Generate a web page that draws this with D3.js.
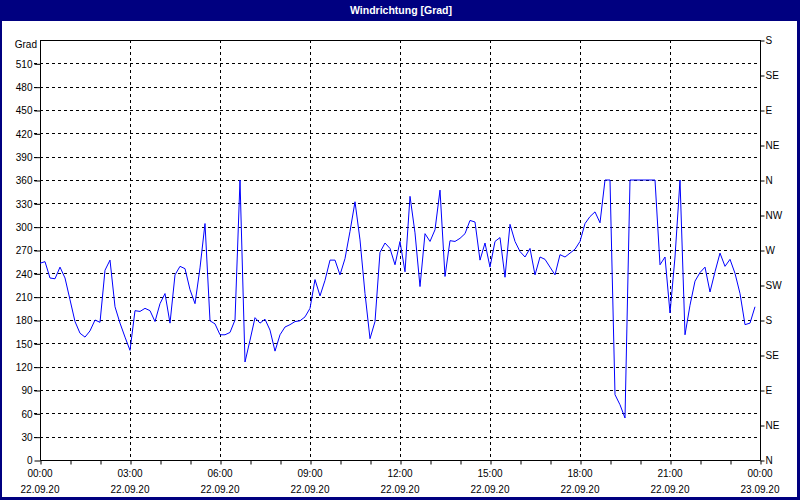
<!DOCTYPE html>
<html><head><meta charset="utf-8">
<script src="https://cdn.jsdelivr.net/npm/d3@7"></script>
<style>
html,body{margin:0;padding:0;background:#fff;}
svg{display:block;}
text{font-family:"Liberation Sans",Arial,sans-serif;}
</style></head>
<body><svg id="c" width="800" height="500"></svg>
<script>
const title = "Windrichtung [Grad]";
const yUnit = "Grad";
const startTime = new Date(2020, 8, 22, 0, 0);
const endTime = new Date(2020, 8, 23, 0, 0);
const stepMinutes = 10;
const direction = [
 253,255,234,233,248,234,206,178,163,158,166,180,177,244,257,197,176,158,141,192,
 191,195,192,178,201,214,176,238,249,246,219,201,247,304,179,175,161,161,164,180,
 360,126,154,183,176,181,167,140,161,171,174,178,179,184,195,232,211,231,257,257,
 238,259,294,332,283,214,156,178,267,279,272,251,281,242,339,292,223,291,281,296,
 347,236,282,281,285,291,308,306,257,279,248,281,286,235,303,281,268,261,272,238,
 261,258,248,238,264,261,266,271,281,304,313,319,305,360,360,84,71,54,360,360,
 360,360,360,360,251,261,189,261,360,161,199,230,241,248,216,242,266,249,258,240,
 214,174,176,197
];
const yTicks = d3.range(0, 541, 30);
const compassTicks = [0,45,90,135,180,225,270,315,360,405,450,495,540];
const compassLabels = ["N","NE","E","SE","S","SW","W","NW","N","NE","E","SE","S"];

const svg = d3.select("#c");
const L = 40, R = 760, T = 40, B = 460;
const x = d3.scaleTime().domain([startTime, endTime]).range([L, R]);
const y = d3.scaleLinear().domain([0, 540]).range([B, T]);
const data = direction.map((v, i) => ({t: new Date(startTime.getTime() + i * stepMinutes * 60000), v}));

// window frame
svg.append("rect").attr("x",0).attr("y",0).attr("width",800).attr("height",500).attr("fill","#000080");
svg.append("rect").attr("x",2).attr("y",21).attr("width",795).attr("height",476).attr("fill","#fff");
svg.append("text").attr("x",401).attr("y",14).attr("text-anchor","middle")
  .attr("fill","#fff").attr("font-size","10.5px").attr("font-weight","bold").text(title);

// grid
const majorTimes = d3.timeHour.every(3).range(startTime, new Date(endTime.getTime()+1));
svg.append("g").selectAll("line").data(yTicks.filter(d => d > 0 && d < 540)).join("line")
  .attr("x1", 34).attr("x2", R).attr("y1", d => Math.round(y(d))+0.5).attr("y2", d => Math.round(y(d))+0.5)
  .attr("stroke","#000").attr("stroke-dasharray","3,3");
svg.append("g").selectAll("line").data(majorTimes.filter(d => d > startTime && d < endTime)).join("line")
  .attr("x1", d => Math.round(x(d))+0.5).attr("x2", d => Math.round(x(d))+0.5).attr("y1", T).attr("y2", B)
  .attr("stroke","#000").attr("stroke-dasharray","3,3");

// axes
const yAxis = d3.axisLeft(y).tickValues(yTicks.filter(d => d < 540)).tickSize(6).tickPadding(2);
const gy = svg.append("g").attr("transform",`translate(${L+0.5},0.5)`).call(yAxis);
const yr = d3.scaleLinear().domain([0,540]).range([B,T]);
const rAxis = d3.axisRight(yr).tickValues(compassTicks).tickSize(4).tickPadding(1)
  .tickFormat((d,i) => compassLabels[i]);
const gr = svg.append("g").attr("transform",`translate(${R+0.5},0.5)`).call(rAxis);
const xAxis = d3.axisBottom(x).ticks(d3.timeHour.every(1)).tickSize(4).tickFormat("");
const gx = svg.append("g").attr("transform",`translate(0.5,${B+0.5})`).call(xAxis);
[gy,gr,gx].forEach(g => {
  g.selectAll(".domain").attr("stroke","#000").attr("d", null);
  g.selectAll("line").attr("stroke","#000");
  g.selectAll("text").attr("fill","#000").attr("font-size","10px").attr("font-family","Liberation Sans, Arial, sans-serif");
});
gy.select(".domain").attr("d", `M0,${T}V${B}`);
gr.select(".domain").attr("d", `M0,${T}V${B}`);
gx.select(".domain").attr("d", `M${L},0H${R}`);
svg.append("line").attr("x1",L).attr("x2",R+1).attr("y1",T+0.5).attr("y2",T+0.5).attr("stroke","#000");

// time labels
const fT = d3.timeFormat("%H:%M"), fD = d3.timeFormat("%d.%m.%y");
const lab = svg.append("g").selectAll("g").data(majorTimes).join("g");
lab.append("text").attr("x", d => x(d)).attr("y", 477).attr("text-anchor","middle").attr("font-size","10px").text(fT);
lab.append("text").attr("x", d => x(d)).attr("y", 493).attr("text-anchor","middle").attr("font-size","10px").text(fD);

svg.append("text").attr("x",37).attr("y",48).attr("text-anchor","end").attr("font-size","10px").text(yUnit);

// line
svg.append("path").datum(data)
  .attr("d", d3.line().x(d => x(d.t)).y(d => y(d.v)))
  .attr("fill","none").attr("stroke","#0000ff").attr("stroke-width",1);
</script></body></html>
